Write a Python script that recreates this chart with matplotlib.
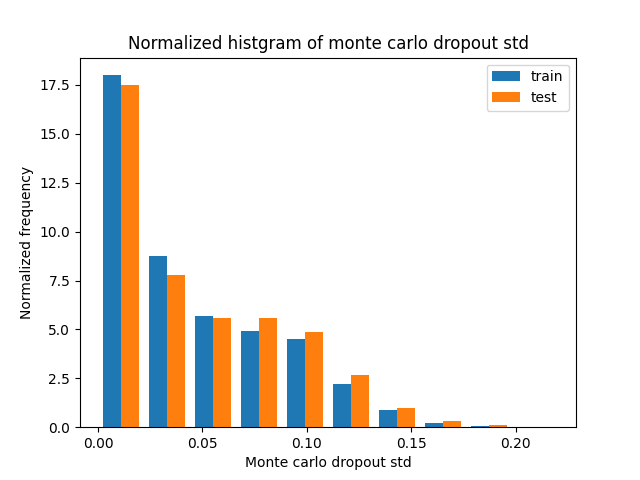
import numpy as np
import matplotlib
matplotlib.use("Agg")
import matplotlib.pyplot as plt

bin_edges = np.linspace(0.0, 0.2202, 11)
train_density = [18.0, 8.73, 5.71, 4.94, 4.53, 2.23, 0.90, 0.19, 0.04, 0.0]
test_density = [17.52, 7.76, 5.56, 5.56, 4.89, 2.69, 0.96, 0.34, 0.09, 0.0]
labels = ["train", "test"]

centers = 0.5 * (bin_edges[:-1] + bin_edges[1:])

fig, ax = plt.subplots(figsize=(6.4, 4.8), dpi=100)
ax.hist([centers, centers], bins=bin_edges,
        weights=[train_density, test_density], label=labels)
ax.set_title("Normalized histgram of monte carlo dropout std")
ax.set_xlabel("Monte carlo dropout std")
ax.set_ylabel("Normalized frequency")
ax.legend()
fig.savefig("out.png")
